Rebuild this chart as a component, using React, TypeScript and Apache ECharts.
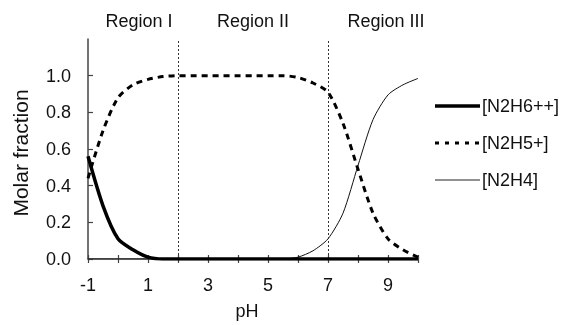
import React, { useEffect, useRef } from "react";
import * as echarts from "echarts";

const pH = [-1, -0.5, 0, 0.5, 1, 1.5, 2, 2.5, 3, 3.5, 4, 4.5, 5, 5.5, 6, 6.5, 7, 7.5, 8, 8.5, 9, 9.5, 10];
const n2h6 = [0.56, 0.29, 0.11, 0.05, 0.01, 0, 0, 0, 0, 0, 0, 0, 0, 0, 0, 0, 0, 0, 0, 0, 0, 0, 0];
const n2h5 = [0.44, 0.7, 0.88, 0.95, 0.98, 0.995, 1, 1, 1, 1, 1, 1, 1, 1, 0.99, 0.96, 0.91, 0.74, 0.49, 0.25, 0.11, 0.05, 0.01];
const n2h4 = [0, 0, 0, 0, 0, 0, 0, 0, 0, 0, 0, 0, 0, 0, 0.01, 0.045, 0.11, 0.25, 0.51, 0.76, 0.895, 0.95, 0.985];
const yTicks = [0, 0.2, 0.4, 0.6, 0.8, 1.0];
const regionBounds = [2, 7];
const regionLabels = ["Region I", "Region II", "Region III"];
const seriesNames = ["[N2H6++]", "[N2H5+]", "[N2H4]"];

const FONT = "Liberation Sans, Arial, sans-serif";

export default function App() {
  const ref = useRef<HTMLDivElement>(null);
  useEffect(() => {
    if (!ref.current) return;
    const chart = echarts.init(ref.current, null, { renderer: "svg" });
    const pairs = (ys: number[]) => pH.map((x, i) => [x, ys[i]]);
    const regionX = [139, 253, 386];
    const legendY = [106, 143, 180];
    const legendStyles = [
      { stroke: "#000", lineWidth: 3.5 },
      { stroke: "#000", lineWidth: 3, lineDash: [4, 6] },
      { stroke: "#222", lineWidth: 1 },
    ];
    const lineStyles = [
      { color: "#000", width: 3.5 },
      { color: "#000", width: 3, type: [6, 5] },
      { color: "#111", width: 1 },
    ];
    const datasets = [n2h6, n2h5, n2h4];
    chart.setOption({
      animation: false,
      textStyle: { fontFamily: FONT },
      grid: { left: 88, right: 146, top: 39, bottom: 62.5 },
      xAxis: [
        {
          type: "value",
          min: -1,
          max: 10,
          interval: 1,
          name: "pH",
          nameLocation: "middle",
          nameGap: 43,
          nameTextStyle: { fontSize: 18, color: "#111", fontFamily: FONT, padding: [0, 12, 0, 0] },
          axisLine: { show: true, onZero: false, lineStyle: { color: "#444", width: 1.5 } },
          axisTick: { show: true, inside: false, length: 4, lineStyle: { color: "#444", width: 1.2 } },
          axisLabel: {
            fontSize: 18,
            color: "#111",
            margin: 17,
            fontFamily: FONT,
            formatter: (v: number) => (Math.round(v) % 2 !== 0 ? String(v) : ""),
          },
          splitLine: { show: false },
        },
        {
          type: "value",
          min: -1,
          max: 10,
          interval: 1,
          position: "bottom",
          axisLine: { show: false, onZero: false },
          axisTick: { show: true, inside: true, length: 4, lineStyle: { color: "#444", width: 1.2 } },
          axisLabel: { show: false },
          splitLine: { show: false },
        },
      ],
      yAxis: {
        type: "value",
        min: 0,
        max: 1.2,
        name: "Molar fraction",
        nameLocation: "middle",
        nameGap: 57,
        nameTextStyle: { fontSize: 21, color: "#111", fontFamily: FONT, padding: [0, 8, 0, 0] },
        axisLine: { show: true, onZero: false, lineStyle: { color: "#444", width: 1.5 } },
        axisTick: { show: true, inside: true, length: 5, customValues: yTicks, lineStyle: { color: "#444", width: 1.2 } },
        axisLabel: {
          fontSize: 18,
          color: "#111",
          margin: 17,
          fontFamily: FONT,
          customValues: yTicks,
          formatter: (v: number) => v.toFixed(1),
        },
        splitLine: { show: false },
      },
      series: seriesNames.map((name, i) => ({
        name,
        type: "line",
        data: pairs(datasets[i]),
        showSymbol: false,
        symbol: "none",
        smooth: 0.25,
        lineStyle: lineStyles[i],
        itemStyle: { color: lineStyles[i].color },
        z: 5 - i,
        ...(i === 0
          ? {
              markLine: {
                silent: true,
                symbol: "none",
                label: { show: false },
                lineStyle: { color: "#333", width: 1, type: [2, 2] },
                data: regionBounds.map((b) => ({ xAxis: b })),
              },
            }
          : {}),
      })),
      graphic: [
        ...regionLabels.map((t, i) => ({
          type: "text",
          x: regionX[i],
          y: 21,
          style: {
            text: t,
            fontSize: 18,
            fontFamily: FONT,
            fill: "#111",
            align: "center",
            verticalAlign: "middle",
          },
        })),
        ...seriesNames.map((name, i) => ({
          type: "group",
          children: [
            {
              type: "line",
              shape: { x1: 435, y1: legendY[i], x2: 480, y2: legendY[i] },
              style: legendStyles[i],
            },
            {
              type: "text",
              x: 482,
              y: legendY[i],
              style: {
                text: name,
                fontSize: 18,
                fontFamily: FONT,
                fill: "#111",
                align: "left",
                verticalAlign: "middle",
              },
            },
          ],
        })),
      ],
    });
    return () => chart.dispose();
  }, []);
  return <div ref={ref} style={{ position: "fixed", left: 0, top: 0, width: 564, height: 325 }} />;
}
